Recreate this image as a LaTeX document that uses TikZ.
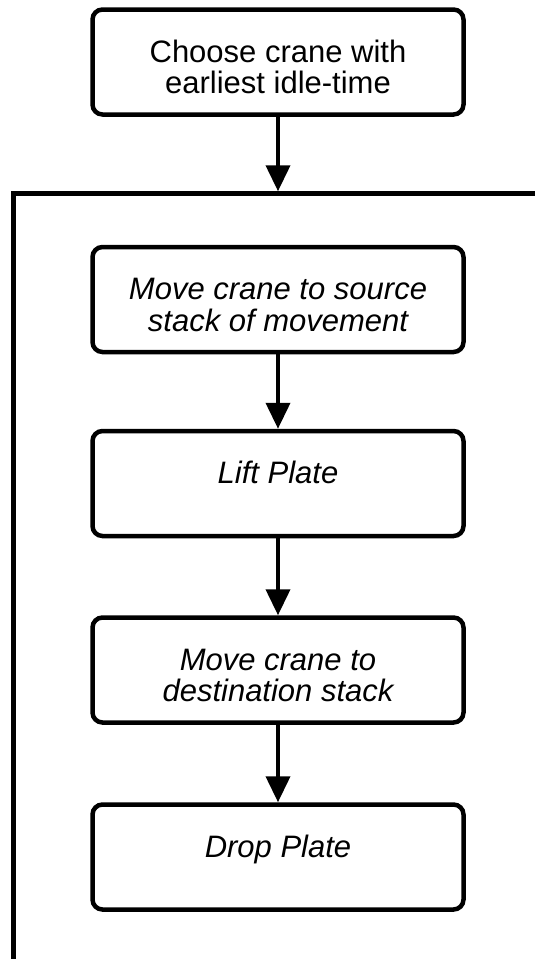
\documentclass[tikz,border=0pt]{standalone}
\usepackage{fontspec}
\setmainfont{Liberation Sans}
\usetikzlibrary{arrows.meta}

\tikzset{
  stepbox/.style={draw, line width=4.5pt, rounded corners=10pt,
    minimum width=371pt, minimum height=105pt, inner sep=0pt},
  steptext/.style={anchor=base, inner sep=0pt,
    font=\fontsize{31}{30.5}\selectfont},
  flow/.style={line width=4pt, -{Triangle[width=24pt,length=26pt]}},
  loopframe/.style={line width=4.5pt}
}

% two-line label whose baseline is the first line
\newcommand{\twolines}[2]{\begin{tabular}[t]{@{}c@{}}#1\\#2\end{tabular}}

\begin{document}
\begin{tikzpicture}[x=1pt,y=-1pt]
  \useasboundingbox (0,0) rectangle (535,959);
  \clip (0,0) rectangle (535,959);

  % enclosing frame of the per-movement loop (runs off the right and bottom)
  \draw[loopframe] (13.3,193.5) rectangle (560,961);
  \coordinate (ftop) at (278,191.25);

  % boxes
  \node[stepbox] (choose) at (278,62) {};
  \node[stepbox] (source) at (278,299.5) {};
  \node[stepbox] (lift)   at (278,483.5) {};
  \node[stepbox] (dest)   at (278,670) {};
  \node[stepbox] (drop)   at (278,857) {};

  % labels
  \node[steptext] (tchoose) at (choose.center) {\twolines{Choose crane with}{earliest idle-time}};
  \node[steptext] (tsource) at (source.center) {\itshape\twolines{Move crane to source}{stack of movement}};
  \node[steptext] (tlift)   at (lift.center)   {\itshape Lift Plate};
  \node[steptext] (tdest)   at (dest.center)   {\itshape\twolines{Move crane to}{destination stack}};
  \node[steptext] (tdrop)   at (drop.center)   {\itshape Drop Plate};

  % connectors
  \draw[flow] (choose.south) -- (ftop);
  \draw[flow] (source.south) -- (lift.north);
  \draw[flow] (lift.south)   -- (dest.north);
  \draw[flow] (dest.south)   -- (drop.north);
\end{tikzpicture}
\end{document}
